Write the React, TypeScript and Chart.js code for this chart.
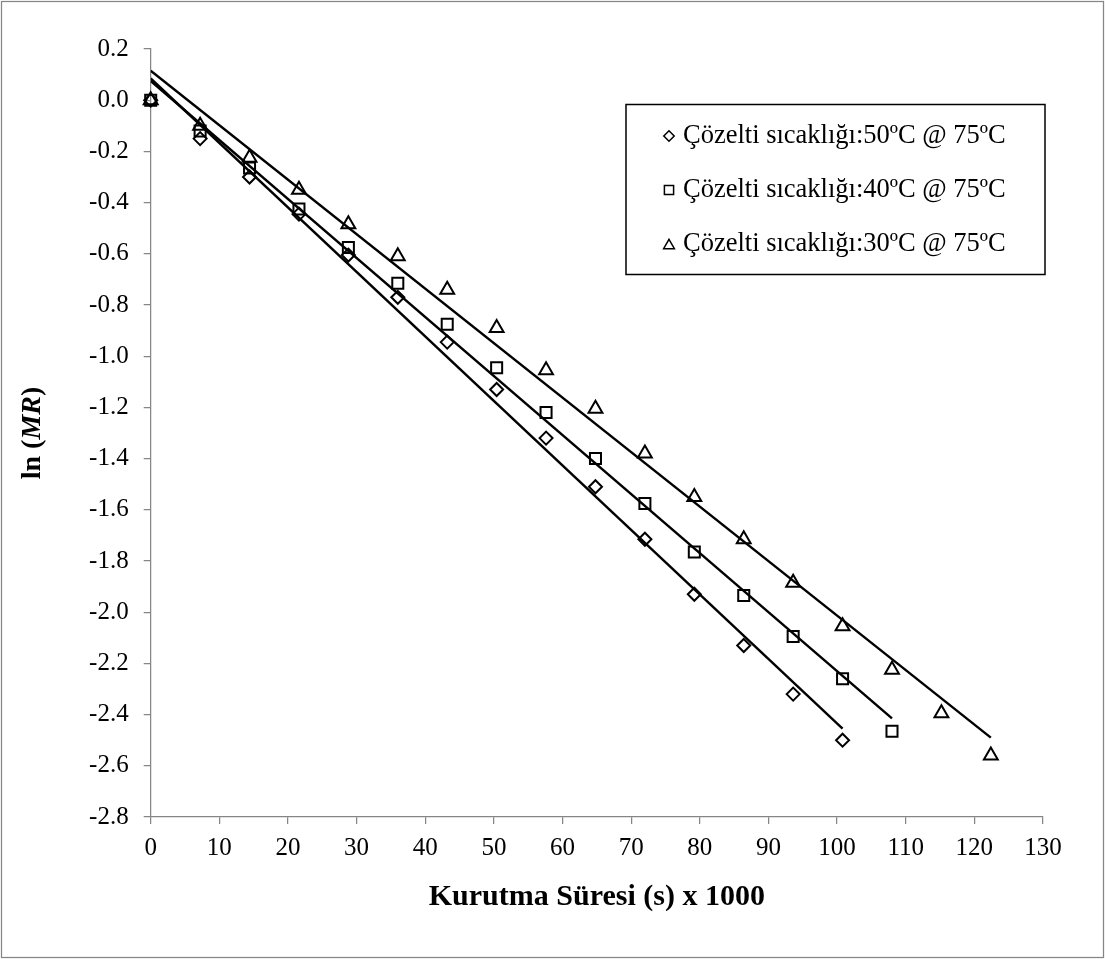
import { useEffect, useRef } from "react";
import { Chart, registerables } from "chart.js";

Chart.register(...registerables);

// Drying time (s) x 1000
const timeK = [0, 7.2, 14.4, 21.6, 28.8, 36, 43.2, 50.4, 57.6, 64.8, 72, 79.2, 86.4, 93.6, 100.8, 108, 115.2, 122.4];

// ln(MR) for each solution temperature
const lnMR50 = [0, -0.15, -0.3, -0.445, -0.605, -0.77, -0.945, -1.13, -1.32, -1.51, -1.715, -1.93, -2.13, -2.32, -2.5];
const lnMR40 = [0, -0.12, -0.265, -0.425, -0.575, -0.715, -0.875, -1.045, -1.22, -1.4, -1.575, -1.765, -1.935, -2.095, -2.26, -2.465];
const lnMR30 = [0, -0.1, -0.225, -0.35, -0.485, -0.61, -0.74, -0.89, -1.055, -1.205, -1.38, -1.55, -1.715, -1.885, -2.055, -2.225, -2.395, -2.56];

// Straight fit lines: [start, end] values at [0, last time]
const fit50 = [0.085, -2.455];
const fit40 = [0.075, -2.415];
const fit30 = [0.115, -2.49];

const seriesLabels = [
  "Çözelti sıcaklığı:50ºC @ 75ºC",
  "Çözelti sıcaklığı:40ºC @ 75ºC",
  "Çözelti sıcaklığı:30ºC @ 75ºC",
];

const xTitle = "Kurutma Süresi (s) x 1000";

const SERIF = "'Liberation Serif', 'Times New Roman', serif";
const AXIS_GREY = "#868686";

type Shape = "diamond" | "square" | "triangle";
const legendShapes: Shape[] = ["diamond", "square", "triangle"];

function toPoints(values: number[]) {
  return values.map((y, i) => ({ x: timeK[i], y }));
}

function fitPoints(fit: number[], count: number) {
  return [
    { x: timeK[0], y: fit[0] },
    { x: timeK[count - 1], y: fit[1] },
  ];
}

function drawShape(ctx: CanvasRenderingContext2D, shape: Shape, x: number, y: number) {
  ctx.beginPath();
  if (shape === "diamond") {
    const r = 5.2;
    ctx.moveTo(x, y - r);
    ctx.lineTo(x + r, y);
    ctx.lineTo(x, y + r);
    ctx.lineTo(x - r, y);
    ctx.closePath();
  } else if (shape === "square") {
    const h = 4.6;
    ctx.rect(x - h, y - h, 2 * h, 2 * h);
  } else {
    const h = 4.7;
    ctx.moveTo(x, y - h);
    ctx.lineTo(x + 5.4, y + h);
    ctx.lineTo(x - 5.4, y + h);
    ctx.closePath();
  }
  ctx.stroke();
}

const decorPlugin = {
  id: "decor",
  beforeDraw(chart: Chart) {
    const ctx = chart.ctx;
    ctx.save();
    ctx.fillStyle = "#ffffff";
    ctx.fillRect(0, 0, chart.width, chart.height);
    ctx.restore();
  },
  afterDraw(chart: Chart) {
    const ctx = chart.ctx;
    const area = chart.chartArea;
    ctx.save();

    // outer frame
    ctx.strokeStyle = AXIS_GREY;
    ctx.lineWidth = 1.25;
    ctx.strokeRect(1.5, 1.5, chart.width - 3, chart.height - 3);

    // legend box
    ctx.strokeStyle = "#000";
    ctx.lineWidth = 1.5;
    ctx.strokeRect(626, 104.5, 419, 170);
    const rows = [136, 190, 244];
    ctx.font = `26.5px ${SERIF}`;
    ctx.textBaseline = "middle";
    ctx.textAlign = "left";
    ctx.fillStyle = "#000";
    rows.forEach((ry, i) => {
      ctx.lineWidth = 1.5;
      drawShape(ctx, legendShapes[i], 669, ry);
      ctx.fillText(seriesLabels[i], 683, ry);
    });

    // x axis title
    ctx.font = `bold 30px ${SERIF}`;
    ctx.textAlign = "center";
    ctx.textBaseline = "middle";
    ctx.fillText(xTitle, (area.left + area.right) / 2, 897);

    // y axis title: ln (MR) with MR in italics
    const parts: [string, string][] = [
      ["ln (", `bold 28px ${SERIF}`],
      ["MR", `italic bold 28px ${SERIF}`],
      [")", `bold 28px ${SERIF}`],
    ];
    let total = 0;
    parts.forEach(([t, f]) => {
      ctx.font = f;
      total += ctx.measureText(t).width;
    });
    ctx.translate(33, (area.top + area.bottom) / 2);
    ctx.rotate(-Math.PI / 2);
    ctx.textAlign = "left";
    let cx = -total / 2;
    parts.forEach(([t, f]) => {
      ctx.font = f;
      ctx.fillText(t, cx, 0);
      cx += ctx.measureText(t).width;
    });
    ctx.restore();
  },
};

export default function App() {
  const canvasRef = useRef<HTMLCanvasElement>(null);

  useEffect(() => {
    const canvas = canvasRef.current;
    if (!canvas) return;

    const markerBase = {
      showLine: false,
      borderColor: "#000",
      backgroundColor: "rgba(0,0,0,0)",
      pointBorderWidth: 2,
      clip: false as const,
    };
    const lineBase = {
      showLine: true,
      borderColor: "#000",
      borderWidth: 2.4,
      pointRadius: 0,
      fill: false,
    };

    const chart = new Chart(canvas, {
      type: "scatter",
      data: {
        datasets: [
          { ...markerBase, label: seriesLabels[0], data: toPoints(lnMR50), pointStyle: "rectRot", pointRadius: 6.5 },
          { ...markerBase, label: seriesLabels[1], data: toPoints(lnMR40), pointStyle: "rect", pointRadius: 7.8 },
          { ...markerBase, label: seriesLabels[2], data: toPoints(lnMR30), pointStyle: "triangle", pointRadius: 8 },
          { ...lineBase, label: "fit50", data: fitPoints(fit50, lnMR50.length) },
          { ...lineBase, label: "fit40", data: fitPoints(fit40, lnMR40.length) },
          { ...lineBase, label: "fit30", data: fitPoints(fit30, lnMR30.length) },
        ],
      },
      options: {
        responsive: false,
        animation: false,
        devicePixelRatio: 1,
        events: [],
        layout: { padding: { top: 49, right: 62, left: 0, bottom: 0 } },
        plugins: {
          legend: { display: false },
          tooltip: { enabled: false },
        },
        scales: {
          x: {
            type: "linear",
            min: 0,
            max: 130,
            ticks: {
              stepSize: 10,
              autoSkip: false,
              maxRotation: 0,
              padding: 9,
              color: "#000",
              font: { family: SERIF, size: 25 },
            },
            grid: {
              drawOnChartArea: false,
              drawTicks: true,
              tickLength: 7,
              color: AXIS_GREY,
              lineWidth: 1.25,
            },
            border: { display: true, color: AXIS_GREY, width: 1.25 },
            afterFit: (scale: any) => {
              scale.height = 142;
            },
          },
          y: {
            type: "linear",
            min: -2.8,
            max: 0.2,
            ticks: {
              stepSize: 0.2,
              autoSkip: false,
              padding: 15,
              color: "#000",
              font: { family: SERIF, size: 25 },
              callback: (v: any) => Number(v).toFixed(1),
            },
            grid: {
              drawOnChartArea: false,
              drawTicks: true,
              tickLength: 7,
              color: AXIS_GREY,
              lineWidth: 1.25,
            },
            border: { display: true, color: AXIS_GREY, width: 1.25 },
            afterFit: (scale: any) => {
              scale.width = 150.7;
            },
          },
        },
      },
      plugins: [decorPlugin],
    });

    return () => chart.destroy();
  }, []);

  return (
    <div style={{ position: "absolute", left: 0, top: 0, width: 1105, height: 959, background: "#fff" }}>
      <canvas ref={canvasRef} width={1105} height={959} style={{ display: "block" }} />
    </div>
  );
}
